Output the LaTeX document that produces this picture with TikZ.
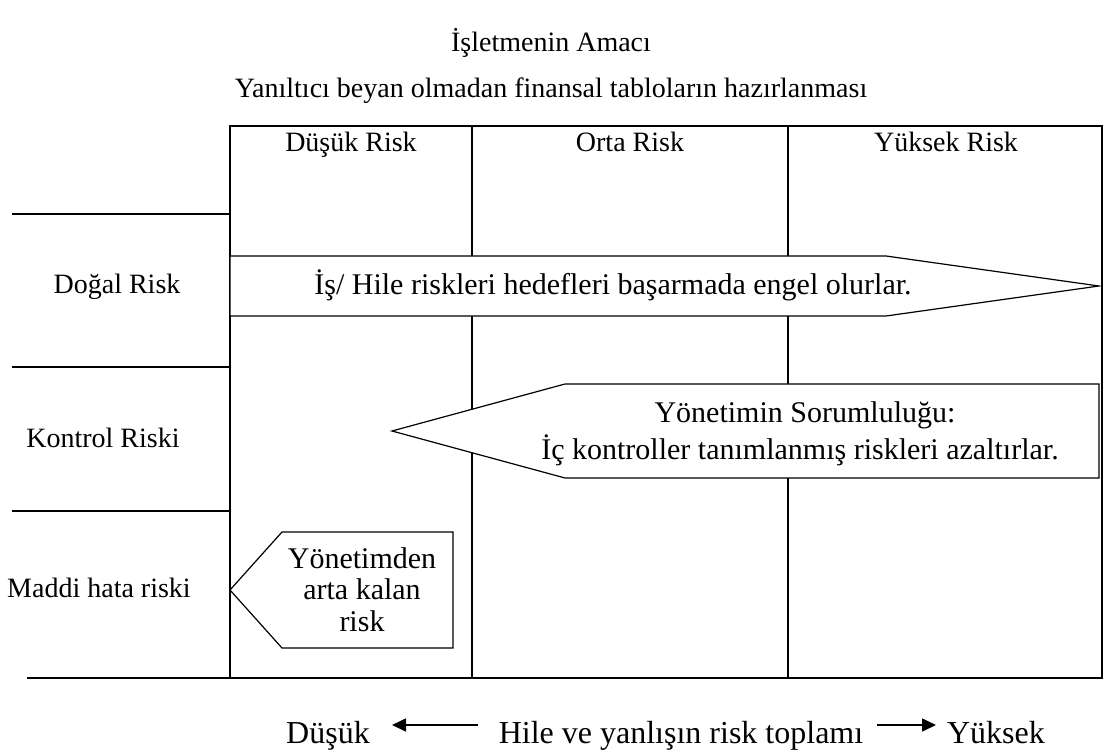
\documentclass[tikz,border=0pt]{standalone}
\usepackage{fontspec}
\setmainfont{Liberation Serif}
\usetikzlibrary{arrows.meta}

\tikzset{
	lbl/.style={anchor=base,inner sep=0pt,font=\fontsize{14}{17}\selectfont},
	inlbl/.style={anchor=base,inner sep=0pt,font=\fontsize{15}{18}\selectfont},
	big/.style={anchor=base,inner sep=0pt,font=\fontsize{16}{19}\selectfont},
	grid/.style={line width=0.8pt},
	band/.style={draw,fill=white,line width=0.6pt},
	tip/.style={line width=0.8pt,-{Triangle[length=7pt,width=6.5pt]}}
}

\begin{document}
\begin{tikzpicture}[x=0.5pt,y=-0.5pt]
	\fill[white] (0,0) rectangle (1104,753);
	\useasboundingbox (0,0) rectangle (1104,753);

	% titles
	\node[lbl] (T1) at (551,52) {İşletmenin Amacı};
	\node[lbl] (T2) at (551,98) {Yanıltıcı beyan olmadan finansal tabloların hazırlanması};

	% table and row lines
	\draw[grid] (230,126) rectangle (1102,678);
	\draw[grid] (472,126) -- (472,678);
	\draw[grid] (788,126) -- (788,678);
	\draw[grid] (12,214) -- (230,214);
	\draw[grid] (12,367) -- (230,367);
	\draw[grid] (12,511) -- (230,511);
	\draw[grid] (27,678) -- (230,678);

	\node[lbl] (H1) at (351,152) {Düşük Risk};
	\node[lbl] (H2) at (630,152) {Orta Risk};
	\node[lbl] (H3) at (946,152) {Yüksek Risk};

	\node[lbl] (R1) at (117,294) {Doğal Risk};
	\node[lbl] (R2) at (103,448) {Kontrol Riski};
	\node[lbl] (R3) at (99,598) {Maddi hata riski};

	% arrows in the table
	\draw[band] (230,256) -- (886,256) -- (1099,286) -- (886,316) -- (230,316) -- cycle;
	\node[inlbl] (P1) at (613,295) {İş/ Hile riskleri hedefleri başarmada engel olurlar.};

	\draw[band] (1099,384) -- (565,384) -- (392,431) -- (565,478) -- (1099,478) -- cycle;
	\node[inlbl] (P2) at (805,423) {Yönetimin Sorumluluğu:};
	\node[inlbl] (P3) at (800,460) {İç kontroller tanımlanmış riskleri azaltırlar.};

	\draw[band] (453,532) -- (282,532) -- (230,590) -- (282,648) -- (453,648) -- cycle;
	\node[inlbl] (P4) at (362,569) {Yönetimden};
	\node[inlbl] (P5) at (362,600) {arta kalan};
	\node[inlbl] (P6) at (362,632) {risk};

	% bottom scale
	\node[big] (B1) at (328,743) {Düşük};
	\node[big] (B2) at (681,743) {Hile ve yanlışın risk toplamı};
	\node[big] (B3) at (996,743) {Yüksek};
	\coordinate (A1) at (478,725);
	\coordinate (A2) at (392,725);
	\coordinate (A3) at (877,725);
	\coordinate (A4) at (936,725);
	\draw[tip] (A1) -- (A2);
	\draw[tip] (A3) -- (A4);
\end{tikzpicture}
\end{document}
